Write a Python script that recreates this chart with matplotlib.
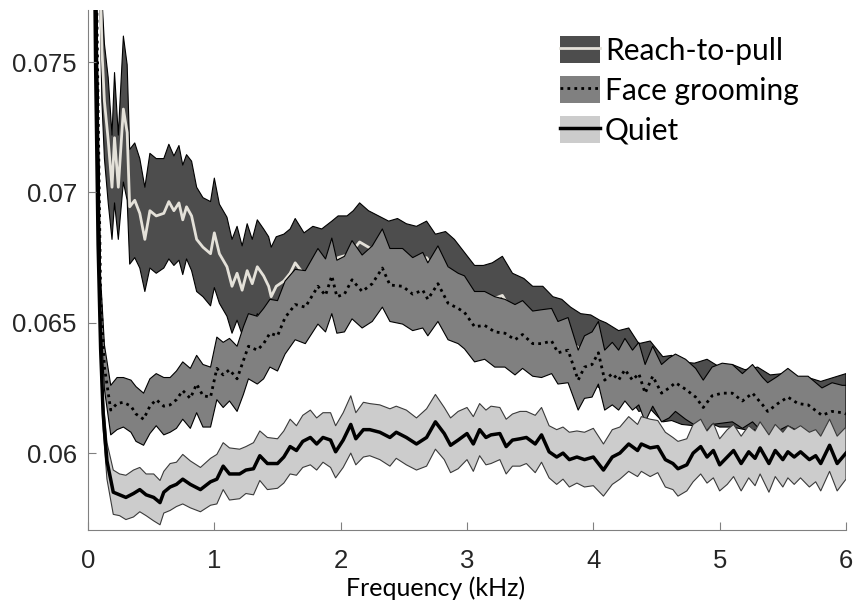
import matplotlib
matplotlib.use("Agg")
import matplotlib.pyplot as plt
import numpy as np
from matplotlib.patches import Patch
from matplotlib.lines import Line2D

# values, mean and sem in units of 1e-3

freq_quiet = [0.03, 0.06, 0.08, 0.10, 0.12, 0.15, 0.20, 0.25, 0.30, 0.36,
              0.41, 0.46, 0.52, 0.57, 0.60, 0.65, 0.70, 0.75, 0.81, 0.89,
              0.97, 1.02, 1.07, 1.12, 1.20, 1.25, 1.31, 1.36, 1.42, 1.50,
              1.55, 1.60, 1.65, 1.70, 1.76, 1.81, 1.86, 1.92, 1.96, 2.02,
              2.08, 2.12, 2.18, 2.23, 2.31, 2.39, 2.44, 2.52, 2.60, 2.68,
              2.75, 2.82, 2.87, 2.93, 3.00, 3.05, 3.10, 3.15, 3.19, 3.26,
              3.31, 3.36, 3.42, 3.47, 3.54, 3.59, 3.65, 3.71, 3.76, 3.81,
              3.87, 3.93, 4.00, 4.08, 4.15, 4.21, 4.28, 4.35, 4.38, 4.45,
              4.51, 4.57, 4.63, 4.67, 4.74, 4.79, 4.85, 4.90, 4.95, 5.00,
              5.06, 5.11, 5.17, 5.23, 5.28, 5.32, 5.39, 5.44, 5.50, 5.54,
              5.59, 5.64, 5.71, 5.76, 5.80, 5.87, 5.93, 6.00]
quiet_mean = [90.0, 75.0, 68.0, 64.0, 61.5, 59.7, 58.5, 58.4, 58.3, 58.45,
              58.6, 58.4, 58.3, 58.1, 58.5, 58.7, 58.8, 59.0, 58.8, 58.6,
              58.9, 59.0, 59.5, 59.2, 59.2, 59.35, 59.4, 59.9, 59.6, 59.6,
              59.85, 60.25, 60.1, 60.45, 60.6, 60.35, 60.6, 60.5, 60.05, 60.5,
              61.1, 60.55, 60.9, 60.9, 60.8, 60.6, 60.8, 60.6, 60.35, 60.6,
              61.2, 60.75, 60.3, 60.5, 60.75, 60.35, 60.9, 60.6, 60.7, 60.75,
              60.25, 60.5, 60.55, 60.6, 60.35, 60.7, 60.05, 59.85, 60.0, 59.75,
              59.85, 59.75, 59.85, 59.35, 59.85, 60.0, 60.35, 60.1, 60.35, 60.2,
              60.25, 59.75, 59.6, 59.4, 59.55, 60.0, 60.25, 59.85, 60.1, 59.55,
              59.85, 60.1, 59.6, 60.05, 59.8, 60.2, 59.6, 60.1, 59.75, 60.05,
              59.85, 60.05, 59.75, 59.9, 59.6, 60.3, 59.6, 60.0]
quiet_sem = [0.5, 0.5, 0.5, 0.55, 0.6, 0.7, 0.85, 0.8, 0.85, 0.9,
             0.85, 0.8, 0.9, 0.85, 0.8, 0.9, 0.85, 0.95, 0.9, 0.85,
             0.9, 0.95, 0.9, 1.0, 0.95, 0.9, 1.0, 0.95, 1.0, 0.95,
             1.0, 1.05, 0.95, 1.0, 1.05, 1.0, 0.95, 1.05, 1.0, 1.05,
             1.1, 1.0, 1.05, 1.0, 1.05, 1.1, 1.0, 1.05, 1.0, 1.1,
             1.05, 1.0, 1.05, 1.1, 1.0, 1.05, 1.0, 1.05, 1.1, 1.0,
             1.05, 1.0, 1.05, 1.0, 1.1, 1.05, 1.0, 1.05, 1.0, 1.05,
             1.0, 1.05, 1.1, 1.0, 1.05, 1.0, 1.05, 1.0, 1.05, 1.1,
             1.0, 1.05, 1.0, 1.05, 1.0, 1.1, 1.05, 1.0, 1.05, 1.0,
             1.05, 1.0, 1.05, 1.0, 1.05, 1.0, 1.1, 1.0, 1.05, 1.0,
             1.05, 1.0, 1.05, 1.0, 1.05, 1.0, 1.05, 1.0]

freq_face = [0.03, 0.07, 0.10, 0.13, 0.18, 0.23, 0.28, 0.34, 0.38, 0.44,
             0.49, 0.54, 0.60, 0.65, 0.70, 0.75, 0.81, 0.86, 0.91, 0.97,
             1.02, 1.07, 1.12, 1.18, 1.23, 1.27, 1.34, 1.39, 1.44, 1.50,
             1.56, 1.64, 1.72, 1.82, 1.88, 1.93, 1.97, 2.03, 2.09, 2.17,
             2.25, 2.33, 2.39, 2.49, 2.57, 2.65, 2.69, 2.77, 2.85, 2.93,
             2.98, 3.06, 3.14, 3.22, 3.30, 3.38, 3.44, 3.52, 3.59, 3.67,
             3.72, 3.80, 3.88, 3.93, 3.99, 4.04, 4.09, 4.15, 4.20, 4.25,
             4.31, 4.36, 4.41, 4.47, 4.54, 4.60, 4.65, 4.73, 4.81, 4.87,
             4.94, 5.02, 5.10, 5.18, 5.26, 5.34, 5.38, 5.46, 5.54, 5.62,
             5.70, 5.81, 5.89, 5.97, 6.00]
face_mean = [95.0, 77.0, 66.0, 63.3, 61.65, 61.9, 61.95, 61.8, 61.5, 61.3,
             61.8, 62.05, 61.8, 61.85, 62.05, 62.4, 62.1, 62.65, 62.2, 62.15,
             63.25, 63.0, 63.2, 62.85, 63.55, 64.1, 63.95, 64.2, 64.6, 64.5,
             65.2, 65.7, 65.6, 66.4, 66.05, 66.8, 66.0, 66.1, 66.65, 66.2,
             66.5, 67.1, 66.45, 66.4, 66.1, 66.25, 65.9, 66.5, 65.75, 65.55,
             65.4, 64.85, 64.9, 64.65, 64.6, 64.35, 64.55, 64.2, 64.2, 64.3,
             63.85, 63.95, 62.8, 63.3, 63.4, 63.85, 62.8, 63.05, 62.8, 63.2,
             62.8, 63.05, 62.3, 62.95, 62.3, 62.5, 62.7, 62.45, 62.15, 61.75,
             62.2, 62.3, 62.3, 62.0, 62.3, 61.85, 61.6, 61.9, 62.15, 61.9,
             61.85, 61.45, 61.6, 61.55, 61.5]
face_sem = [0.6, 0.6, 0.7, 0.85, 0.95, 1.0, 0.95, 1.0, 1.05, 1.0,
            1.05, 1.0, 1.1, 1.05, 1.1, 1.1, 1.15, 1.1, 1.2, 1.15,
            1.2, 1.25, 1.2, 1.25, 1.3, 1.25, 1.3, 1.35, 1.3, 1.35,
            1.4, 1.35, 1.4, 1.45, 1.4, 1.45, 1.4, 1.45, 1.5, 1.4,
            1.45, 1.5, 1.4, 1.45, 1.4, 1.45, 1.4, 1.45, 1.4, 1.35,
            1.4, 1.35, 1.3, 1.35, 1.3, 1.35, 1.3, 1.25, 1.3, 1.25,
            1.2, 1.25, 1.15, 1.2, 1.25, 1.2, 1.15, 1.2, 1.15, 1.2,
            1.15, 1.2, 1.1, 1.15, 1.1, 1.15, 1.1, 1.15, 1.1, 1.05,
            1.1, 1.15, 1.1, 1.05, 1.1, 1.05, 1.1, 1.05, 1.1, 1.05,
            1.1, 1.05, 1.1, 1.05, 1.1]

freq_reach = [0.05, 0.09, 0.11, 0.13, 0.16, 0.19, 0.21, 0.24, 0.28, 0.31,
              0.33, 0.37, 0.41, 0.45, 0.49, 0.54, 0.60, 0.64, 0.68, 0.72,
              0.75, 0.78, 0.82, 0.86, 0.91, 0.97, 1.00, 1.04, 1.10, 1.14,
              1.18, 1.22, 1.26, 1.30, 1.34, 1.39, 1.43, 1.45, 1.49, 1.55,
              1.60, 1.64, 1.71, 1.78, 1.85, 1.93, 1.98, 2.05, 2.10, 2.15,
              2.22, 2.30, 2.38, 2.45, 2.52, 2.60, 2.68, 2.75, 2.83, 2.90,
              2.98, 3.06, 3.13, 3.20, 3.28, 3.36, 3.45, 3.52, 3.60, 3.68,
              3.75, 3.82, 3.90, 3.98, 4.05, 4.10, 4.20, 4.28, 4.36, 4.45,
              4.55, 4.62, 4.70, 4.80, 4.90, 5.00, 5.10, 5.20, 5.30, 5.40,
              5.50, 5.60, 5.70, 5.80, 5.90, 6.00]
reach_mean = [95.0, 80.0, 75.5, 73.5, 72.0, 70.2, 72.1, 70.2, 73.2, 72.3,
              69.45, 69.7, 69.2, 68.2, 69.3, 69.1, 69.2, 69.65, 69.3, 69.6,
              68.95, 69.45, 69.1, 68.2, 67.9, 67.65, 68.45, 67.65, 67.15, 66.4,
              66.9, 66.25, 67.0, 66.5, 67.15, 66.8, 66.4, 66.0, 66.4, 66.6,
              66.9, 67.3, 66.85, 67.1, 67.0, 67.3, 67.5, 67.6, 67.8, 68.1,
              67.9, 67.7, 67.5, 67.6, 67.4, 67.3, 67.5, 67.0, 67.2, 66.8,
              66.3, 66.0, 65.7, 65.9, 66.05, 65.4, 65.3, 65.0, 65.0, 64.6,
              64.5, 64.3, 63.95, 64.0, 63.8, 63.75, 63.4, 63.5, 62.9, 63.0,
              62.45, 62.5, 62.3, 62.25, 62.4, 62.15, 62.2, 62.05, 62.1, 61.85,
              61.9, 61.75, 61.8, 61.65, 61.75, 61.75]
reach_sem = [1.0, 1.5, 2.0, 2.2, 2.4, 2.0, 2.5, 2.0, 2.8, 2.6,
             2.2, 2.2, 2.1, 2.0, 2.2, 2.2, 2.1, 2.2, 2.1, 2.2,
             2.1, 2.0, 2.1, 2.0, 1.9, 2.0, 2.1, 1.9, 1.9, 1.8,
             1.8, 1.7, 1.8, 1.7, 1.8, 1.8, 1.9, 1.9, 1.9, 1.8,
             1.7, 1.7, 1.6, 1.6, 1.6, 1.6, 1.6, 1.5, 1.5, 1.5,
             1.4, 1.4, 1.4, 1.4, 1.4, 1.4, 1.4, 1.4, 1.3, 1.4,
             1.4, 1.2, 1.5, 1.4, 1.5, 1.5, 1.4, 1.4, 1.4, 1.4,
             1.4, 1.3, 1.4, 1.3, 1.3, 1.25, 1.3, 1.3, 1.3, 1.3,
             1.25, 1.25, 1.2, 1.2, 1.2, 1.15, 1.2, 1.15, 1.2, 1.15,
             1.15, 1.1, 1.1, 1.1, 1.15, 1.3]

labels = ['Reach-to-pull', 'Face grooming', 'Quiet']


def band(ax, f, m, s, fc, ec, lc, ls, lw, z):
    f = np.array(f)
    m = np.array(m) * 1e-3
    s = np.array(s) * 1e-3
    ax.fill_between(f, m - s, m + s, facecolor=fc, edgecolor=ec, linewidth=0.8, zorder=z)
    ax.plot(f, m, color=lc, linestyle=ls, linewidth=lw, zorder=z + 0.1)


fig = plt.figure(figsize=(8.55, 6.1), dpi=100)
ax = fig.add_axes([88 / 855, 80 / 610, 758 / 855, 520 / 610])

band(ax, freq_reach, reach_mean, reach_sem, '#4d4d4d', 'black', '#e4e1d9', '-', 2.0, 1)
band(ax, freq_face, face_mean, face_sem, '#808080', 'black', 'black', (0, (1, 1.5)), 2.0, 1.2)
band(ax, freq_quiet, quiet_mean, quiet_sem, '#cccccc', '#3a3a3a', 'black', '-', 2.5, 1.4)

ax.set_xlim(0, 6)
ax.set_ylim(0.05705, 0.0770)
ax.set_xticks([0, 1, 2, 3, 4, 5, 6])
ax.set_yticks([0.06, 0.065, 0.07, 0.075])
ax.set_yticklabels(['0.06', '0.065', '0.07', '0.075'])
for sp in ['top', 'right']:
    ax.spines[sp].set_visible(False)
for sp in ['left', 'bottom']:
    ax.spines[sp].set_color('#808080')
ax.tick_params(direction='in', length=6, color='#808080', labelcolor='#262626',
               labelsize=18.5)
ax.tick_params(axis='y', pad=8)
ax.tick_params(axis='x', pad=14)
for t in ax.get_xticklabels() + ax.get_yticklabels():
    t.set_fontfamily('Liberation Sans')

ax.set_xlabel('Frequency (kHz)', fontsize=18, family='Lato')
ax.xaxis.label.set_va('center')
ax.xaxis.set_label_coords(0.459, -0.111)

handles = [
    (Patch(facecolor='#4d4d4d', edgecolor='none'), Line2D([], [], color='#e4e1d9', lw=2.0)),
    (Patch(facecolor='#808080', edgecolor='none'), Line2D([], [], color='black', ls=(0, (1, 1.5)), lw=2.0)),
    (Patch(facecolor='#cccccc', edgecolor='none'), Line2D([], [], color='black', lw=2.5)),
]
ax.legend(handles, labels, loc='upper left', bbox_to_anchor=((560 - 88) / 758, 0.950),
          frameon=False, prop={'family': 'Lato', 'size': 21.5}, handlelength=1.34,
          handleheight=1.0, handletextpad=0.17, labelspacing=0.38, borderpad=0,
          borderaxespad=0)

fig.savefig('out.png', dpi=100)
